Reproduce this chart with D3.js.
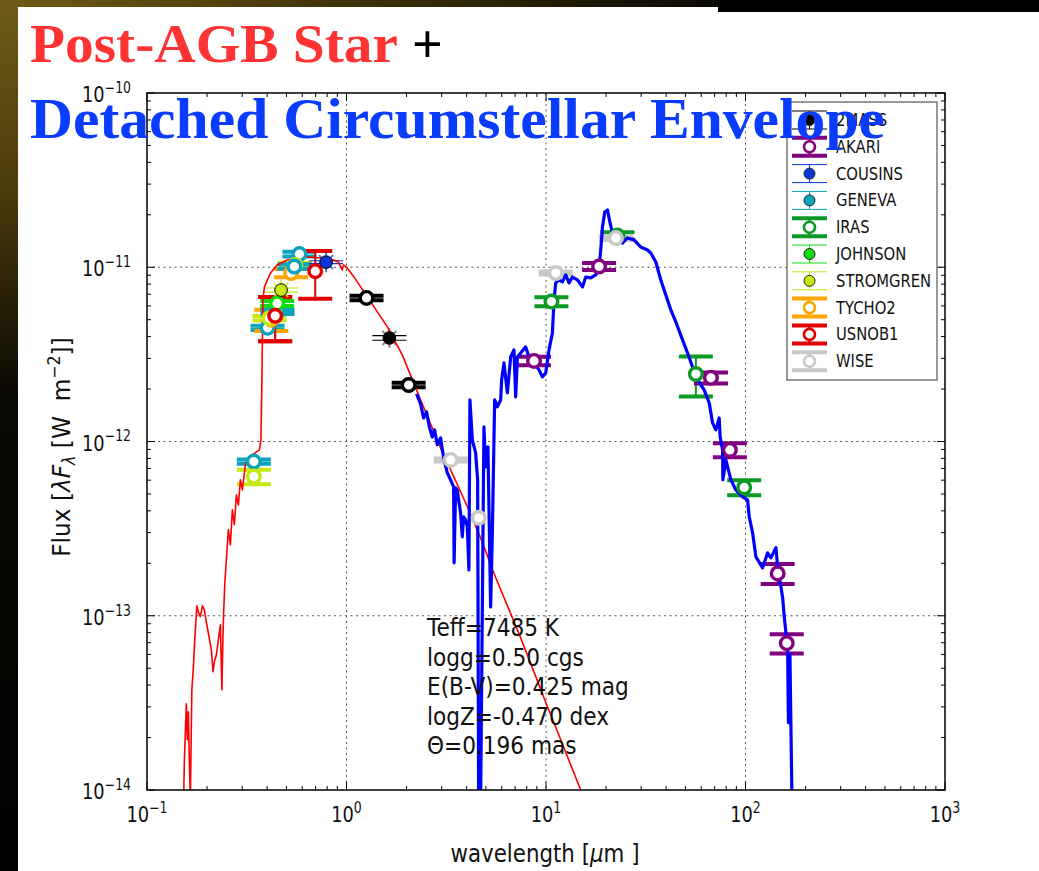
<!DOCTYPE html>
<html>
<head>
<meta charset="utf-8">
<script src="https://cdn.jsdelivr.net/npm/d3@7"></script>
<style>
html,body{margin:0;padding:0;background:#fff;}
svg{display:block;}
</style>
</head>
<body>
<script>
// ---- photometric systems (legend order) ----
const sysNames  = ["2MASS","AKARI","COUSINS","GENEVA","IRAS","JOHNSON","STROMGREN","TYCHO2","USNOB1","WISE"];
const sysColors = ["#000000","#800080","#0a36d8","#0aa2bd","#0b9a25","#10dd10","#c8e810","#ffa500","#e00000","#c8c8c8"];
const sysLegendOpen = [false,true,false,false,true,false,false,true,true,true];

// ---- photometry: system, wavelength [um], flux [W m-2], error, used in fit ----
const photSys   = ["GENEVA","STROMGREN","USNOB1","GENEVA","TYCHO2","STROMGREN","GENEVA","JOHNSON","USNOB1","GENEVA","STROMGREN","TYCHO2","STROMGREN","GENEVA","USNOB1","COUSINS",
                   "2MASS","2MASS","2MASS","WISE","WISE","IRAS","WISE","AKARI","AKARI","IRAS","WISE","IRAS","AKARI","AKARI","IRAS","AKARI","AKARI"];
const photWave  = [0.343,0.343,0.439,0.402,0.42,0.411,0.451,0.449,0.439,0.581,0.47,0.528,0.553,0.548,0.697,0.79,
                   1.26,1.64,2.05,3.33,4.60,10.65,11.19,8.71,18.45,22.8,22.4,56.4,67.1,83.5,98.5,145,161];
const photFlux  = [7.67e-13,6.29e-13,5.26e-12,4.49e-12,5.0e-12,5.1e-12,5.54e-12,6.2e-12,5.26e-12,1.19e-11,7.4e-12,9.27e-12,1.03e-11,1.01e-11,9.5e-12,1.07e-11,
                   6.67e-12,3.93e-12,2.11e-12,7.84e-13,3.65e-13,6.35e-12,9.27e-12,2.90e-12,1.01e-11,1.52e-11,1.47e-11,2.44e-12,2.32e-12,8.95e-13,5.45e-13,1.75e-13,6.96e-14];
const photErr   = [2.1e-14,6.0e-14,1.5e-12,1.2e-13,7.0e-13,1.5e-13,1.5e-13,2.0e-13,1.5e-12,3.6e-13,2.0e-13,5.0e-13,3.0e-13,3.0e-13,2.9e-12,2.0e-13,
                   2.0e-13,1.2e-13,6.0e-14,1.6e-14,null,3.8e-13,1.9e-13,1.6e-13,4.7e-13,7.0e-13,3.0e-13,6.3e-13,1.7e-13,8.3e-14,5.4e-14,2.3e-14,8.8e-15];
const photFitted = [true,true,true,true,true,true,true,true,true,true,false,true,true,true,true,false,
                   true,false,true,true,true,true,true,true,true,true,true,true,true,true,true,true,true];

// ---- reddened stellar model: log10 wavelength [um], log10 lambda F_lambda [W m-2] ----
const starLogWave = [-0.8164,-0.8128,-0.8028,-0.7978,-0.7928,-0.7878,-0.7827,-0.7752,-0.7677,-0.7602,-0.7501,-0.7426,-0.7326,-0.7225,-0.7125,-0.7025,-0.6899,-0.6774,-0.6689,-0.6623,-0.6523,-0.6423,-0.6322,-0.6247,-0.6197,-0.6157,-0.6097,
  -0.6021,-0.5921,-0.5820,-0.5720,-0.5620,-0.5519,-0.5419,-0.5319,-0.5218,-0.5068,-0.4917,-0.4717,-0.4516,-0.4365,-0.4290,-0.4240,-0.4190,-0.4115,-0.3813,-0.3477,-0.2975,-0.2559,-0.2158,-0.1305,-0.0652,-0.0401,-0.0216,-0.0151,
  0.0035,0.0366,0.1204,0.2042,0.2795,0.3713,0.4717,0.6056,0.6724,0.7391,0.8731,1.0070,1.0738,1.1741,1.1942];
const starLogFlux = [-14.056,-13.838,-13.505,-13.712,-13.551,-13.827,-14.056,-13.425,-13.299,-13.127,-12.943,-12.978,-13.006,-12.943,-12.966,-13.035,-13.115,-13.196,-13.321,-13.264,-13.224,-13.138,-13.052,-13.425,-13.138,-12.978,-12.805,
  -12.679,-12.507,-12.593,-12.392,-12.478,-12.306,-12.364,-12.220,-12.278,-12.134,-12.094,-12.077,-12.060,-12.048,-11.991,-11.647,-11.188,-11.113,-11.033,-10.987,-10.958,-10.947,-10.939,-10.947,-10.958,-10.970,-11.015,-10.987,
  -11.004,-11.054,-11.197,-11.341,-11.503,-11.761,-12.037,-12.373,-12.553,-12.756,-13.127,-13.521,-13.712,-14.000,-14.056];

// ---- star + detached dust shell model ----
const shellLogWave = [0.3512,0.3713,0.3864,0.4014,0.4165,0.4300,0.4415,0.4551,0.4717,0.4802,0.4917,0.5053,0.5218,0.5369,0.5394,0.5469,0.5554,0.5620,0.5720,0.5805,0.5870,0.5971,0.6056,0.6137,0.6187,0.6247,0.6307,0.6397,0.6473,0.6573,0.6623,0.6724,
  0.6889,0.6974,0.7090,0.7225,0.7311,0.7426,0.7561,0.7727,0.7777,0.7893,0.8063,0.8229,0.8394,0.8480,0.8565,0.8731,0.8981,0.9147,0.9398,0.9649,0.9819,0.9985,1.0151,1.0321,1.0402,1.0487,1.0652,1.0823,1.0989,1.1154,1.1325,1.1576,
  1.1826,1.1992,1.2243,1.2494,1.2659,1.2745,1.2830,1.2945,1.3081,1.3211,1.3332,1.3583,1.3833,1.4084,1.4415,1.4752,1.5088,1.5253,1.5504,1.5755,1.6006,1.6257,1.6508,1.6844,1.7095,1.7346,1.7597,1.7928,1.8179,1.8349,1.8515,1.8680,
  1.8731,1.8851,1.8866,1.9017,1.9268,1.9518,1.9855,2.0105,2.0186,2.0356,2.0522,2.0858,2.1109,2.1274,2.1525,2.1611,2.1776,2.1862,2.1942,2.2027,2.2112,2.2152,2.2227,2.2328];
const shellLogFlux = [-11.727,-11.784,-11.865,-11.830,-11.922,-11.974,-11.933,-12.019,-11.979,-12.048,-12.117,-12.180,-12.220,-12.260,-12.696,-12.266,-12.278,-12.335,-12.410,-12.547,-12.432,-12.450,-12.490,-12.737,-11.761,-11.876,-11.991,-12.031,-12.065,-12.220,-14.056,-14.056,
  -11.916,-12.146,-12.031,-12.949,-12.524,-11.761,-11.801,-11.761,-11.647,-11.549,-11.721,-11.515,-11.474,-11.744,-11.515,-11.492,-11.457,-11.515,-11.549,-11.589,-11.629,-11.607,-11.474,-11.377,-11.188,-11.090,-11.073,-11.084,-11.044,-11.090,-11.056,-11.073,
  -11.113,-11.056,-11.061,-11.044,-10.998,-10.901,-10.769,-10.683,-10.671,-10.746,-10.803,-10.843,-10.861,-10.832,-10.843,-10.884,-10.901,-10.918,-10.970,-11.073,-11.159,-11.245,-11.314,-11.417,-11.492,-11.572,-11.647,-11.704,-11.778,-11.893,-11.933,-11.865,
  -11.974,-12.048,-12.220,-12.106,-12.220,-12.278,-12.318,-12.335,-12.432,-12.524,-12.662,-12.725,-12.639,-12.668,-12.610,-12.719,-12.834,-12.897,-13.006,-13.098,-13.196,-13.614,-13.224,-14.056];

// ---- axes ----
const xTicks = [0.1,1,10,100,1000];
const yTicks = [1e-14,1e-13,1e-12,1e-11,1e-10];

// ---- fit results ----
const fitLines = ["Teff=7485 K","logg=0.50 cgs","E(B-V)=0.425 mag","logZ=-0.470 dex","\u0398=0.196 mas"];

const W = 1039, H = 871;
const PL = 147, PR = 945, PT = 93, PB = 790;
const SX = 0.87;  // horizontal squeeze of the figure text
const FONT = "DejaVu Sans, Bitstream Vera Sans, sans-serif";

const svg = d3.select("body").append("svg").attr("width", W).attr("height", H);
const defs = svg.append("defs");

// frame around the slide
const gV = defs.append("linearGradient").attr("id","edgeV").attr("x1",0).attr("y1",0).attr("x2",0).attr("y2",1);
gV.append("stop").attr("offset","0").attr("stop-color","#6e5c16");
gV.append("stop").attr("offset","0.22").attr("stop-color","#4a3b0c");
gV.append("stop").attr("offset","0.45").attr("stop-color","#0b0903");
gV.append("stop").attr("offset","1").attr("stop-color","#000");
const gH = defs.append("linearGradient").attr("id","edgeH").attr("x1",0).attr("y1",0).attr("x2",1).attr("y2",0);
gH.append("stop").attr("offset","0").attr("stop-color","#6e5c16");
gH.append("stop").attr("offset","0.35").attr("stop-color","#3e3009");
gH.append("stop").attr("offset","0.68").attr("stop-color","#0c0a04");
gH.append("stop").attr("offset","1").attr("stop-color","#000");
svg.append("rect").attr("x",0).attr("y",0).attr("width",W).attr("height",H).attr("fill","#fff");
svg.append("rect").attr("x",0).attr("y",0).attr("width",W).attr("height",7).attr("fill","url(#edgeH)");
svg.append("rect").attr("x",718).attr("y",0).attr("width",W-718).attr("height",12).attr("fill","#000");
svg.append("rect").attr("x",0).attr("y",0).attr("width",18).attr("height",H).attr("fill","url(#edgeV)");

const x = d3.scaleLog().domain([0.1,1000]).range([PL,PR]);
const y = d3.scaleLog().domain([1e-14,1e-10]).range([PB,PT]);

defs.append("clipPath").attr("id","plotClip").append("rect")
  .attr("x",PL).attr("y",PT).attr("width",PR-PL).attr("height",PB-PT);

// grid
const grid = svg.append("g").attr("stroke","#555").attr("stroke-width",1).attr("stroke-dasharray","2,3.5");
[1,10,100].forEach(t => grid.append("line").attr("x1",x(t)).attr("x2",x(t)).attr("y1",PT).attr("y2",PB));
[1e-13,1e-12,1e-11].forEach(t => grid.append("line").attr("y1",y(t)).attr("y2",y(t)).attr("x1",PL).attr("x2",PR));

// ticks (inside, all four sides)
const ticks = svg.append("g").attr("stroke","#000").attr("stroke-width",1);
function minors(lo, n){ const out=[]; for(let i=0;i<n;i++){ const d=lo*Math.pow(10,i); for(let k=2;k<10;k++) out.push(d*k);} return out; }
xTicks.forEach(t => { ticks.append("line").attr("x1",x(t)).attr("x2",x(t)).attr("y1",PB).attr("y2",PB-8);
                      ticks.append("line").attr("x1",x(t)).attr("x2",x(t)).attr("y1",PT).attr("y2",PT+8); });
minors(0.1,4).forEach(t => { ticks.append("line").attr("x1",x(t)).attr("x2",x(t)).attr("y1",PB).attr("y2",PB-4);
                             ticks.append("line").attr("x1",x(t)).attr("x2",x(t)).attr("y1",PT).attr("y2",PT+4); });
yTicks.forEach(t => { ticks.append("line").attr("y1",y(t)).attr("y2",y(t)).attr("x1",PL).attr("x2",PL+8);
                      ticks.append("line").attr("y1",y(t)).attr("y2",y(t)).attr("x1",PR).attr("x2",PR-8); });
minors(1e-14,4).forEach(t => { ticks.append("line").attr("y1",y(t)).attr("y2",y(t)).attr("x1",PL).attr("x2",PL+4);
                               ticks.append("line").attr("y1",y(t)).attr("y2",y(t)).attr("x1",PR).attr("x2",PR-4); });

// tick labels
function powLabel(g, v, size, anchor){
  const e = Math.round(Math.log10(v));
  const t = g.append("text").attr("font-family",FONT).attr("font-size",size).attr("text-anchor",anchor).attr("fill","#111");
  t.append("tspan").text("10");
  t.append("tspan").attr("dy",-0.42*size).attr("font-size",size*0.7).text(e<0 ? "\u2212"+(-e) : String(e));
}
const TSX = 0.81;
xTicks.forEach(t => powLabel(svg.append("g").attr("transform",`translate(${x(t)},822) scale(${TSX},1)`), t, 22, "middle"));
yTicks.forEach(t => powLabel(svg.append("g").attr("transform",`translate(131,${y(t)+9}) scale(${TSX},1)`), t, 22, "end"));

// axis labels
const xl = svg.append("g").attr("transform",`translate(545,862) scale(0.89,1)`)
  .append("text").attr("font-family",FONT).attr("font-size",24).attr("text-anchor","middle").attr("fill","#111");
xl.append("tspan").text("wavelength [");
xl.append("tspan").attr("font-style","italic").text("\u03bc");
xl.append("tspan").text("m ]");
const yl = svg.append("g").attr("transform",`translate(70,447) rotate(-90) scale(0.93,1)`)
  .append("text").attr("font-family",FONT).attr("font-size",25).attr("text-anchor","middle").attr("fill","#111");
yl.append("tspan").text("Flux [");
yl.append("tspan").attr("font-style","italic").text("\u03bbF");
yl.append("tspan").attr("font-style","italic").attr("font-size",17).attr("dy",5).text("\u03bb");
yl.append("tspan").attr("dy",-5).text(" [W\u00a0\u00a0m");
yl.append("tspan").attr("font-size",17).attr("dy",-10).text("\u22122");
yl.append("tspan").attr("dy",10).text("]]");

// photometry: error bars and caps
const colorOf = s => sysColors[sysNames.indexOf(s)];
const CAP = 17;
const phot = photSys.map((s,i) => ({s, w:photWave[i], f:photFlux[i], e:photErr[i], fit:photFitted[i]}));
const bars = svg.append("g");
phot.forEach(p => {
  if (p.e === null) return;
  const c = colorOf(p.s), cx = x(p.w), y1 = y(p.f + p.e), y2 = y(p.f - p.e);
  const lw = p.fit ? 4 : 1.2;
  if (!p.fit) {
    // excluded points get a faint asterisk
    [[0,-10,0,10],[-7,-7,7,7],[-7,7,7,-7]].forEach(d => bars.append("line")
      .attr("x1",cx+d[0]).attr("y1",y(p.f)+d[1]).attr("x2",cx+d[2]).attr("y2",y(p.f)+d[3])
      .attr("stroke", p.s==="2MASS" ? "#555" : c).attr("stroke-opacity",0.7).attr("stroke-width",2));
  }
  bars.append("line").attr("x1",cx).attr("x2",cx).attr("y1",y1).attr("y2",y2).attr("stroke",c).attr("stroke-width",p.fit?2:1.2);
  [y1,y2].forEach(yy => bars.append("line").attr("x1",cx-CAP).attr("x2",cx+CAP).attr("y1",yy).attr("y2",yy)
      .attr("stroke",c).attr("stroke-width",lw));
});

// models
const models = svg.append("g").attr("clip-path","url(#plotClip)");
const line = d3.line().x(d => x(Math.pow(10,d[0]))).y(d => y(Math.pow(10,d[1])));
models.append("path").datum(starLogWave.map((w,i)=>[w,starLogFlux[i]]))
  .attr("d",line).attr("fill","none").attr("stroke","#ff0000").attr("stroke-width",1.6).attr("stroke-linejoin","round");
models.append("path").datum(shellLogWave.map((w,i)=>[w,shellLogFlux[i]]))
  .attr("d",line).attr("fill","none").attr("stroke","#0000ff").attr("stroke-width",3.2).attr("stroke-linejoin","round");

// photometry markers
const marks = svg.append("g");
phot.forEach(p => {
  const c = colorOf(p.s);
  marks.append("circle").attr("cx",x(p.w)).attr("cy",y(p.f)).attr("r",6.3)
    .attr("fill", p.fit ? "#fff" : c).attr("stroke", p.fit ? c : "#000").attr("stroke-width", p.fit ? 3.4 : 1);
});

// frame
svg.append("rect").attr("x",PL).attr("y",PT).attr("width",PR-PL).attr("height",PB-PT)
  .attr("fill","none").attr("stroke","#000").attr("stroke-width",1.5);

// fit parameters
fitLines.forEach((s,i) => svg.append("g").attr("transform",`translate(427,${636+i*29.6}) scale(0.88,1)`)
  .append("text").attr("font-family",FONT).attr("font-size",24.6).attr("fill","#111").text(s));

// legend
const lg = svg.append("g");
lg.append("rect").attr("x",787).attr("y",102).attr("width",150).attr("height",278)
  .attr("fill","#fff").attr("stroke","#777").attr("stroke-width",1.5);
sysNames.forEach((s,i) => {
  const cy = 120 + i*26.8, c = sysColors[i], open = sysLegendOpen[i];
  const lw = open ? 4 : 1;
  [cy-9, cy+9].forEach(yy => lg.append("line").attr("x1",792).attr("x2",827).attr("y1",yy).attr("y2",yy)
     .attr("stroke",c).attr("stroke-width",lw));
  lg.append("line").attr("x1",809.5).attr("x2",809.5).attr("y1",cy-9).attr("y2",cy+9).attr("stroke",c).attr("stroke-width",open?2:1);
  lg.append("circle").attr("cx",809.5).attr("cy",cy).attr("r",5.5)
    .attr("fill", open ? "#fff" : c).attr("stroke", open ? c : "#222").attr("stroke-width", open ? 2.6 : 1);
  lg.append("g").attr("transform",`translate(836,${cy+6}) scale(${SX},1)`)
    .append("text").attr("font-family",FONT).attr("font-size",17).attr("fill","#111").text(s);
});

// slide titles
const SERIF = "Liberation Serif, Times New Roman, serif";
svg.append("text").attr("x",30).attr("y",62).attr("font-family",SERIF).attr("font-weight","bold")
  .attr("font-size",54).attr("fill","#ff3333").attr("textLength",368).attr("lengthAdjust","spacingAndGlyphs").text("Post-AGB Star");
svg.append("text").attr("x",412).attr("y",62).attr("font-family",SERIF).attr("font-weight","bold")
  .attr("font-size",54).attr("fill","#000").text("+");
svg.append("text").attr("x",30).attr("y",138).attr("font-family",SERIF).attr("font-weight","bold")
  .attr("font-size",57).attr("fill","#0a3cff").attr("textLength",855).attr("lengthAdjust","spacingAndGlyphs").text("Detached Circumstellar Envelope");
</script>
</body>
</html>
